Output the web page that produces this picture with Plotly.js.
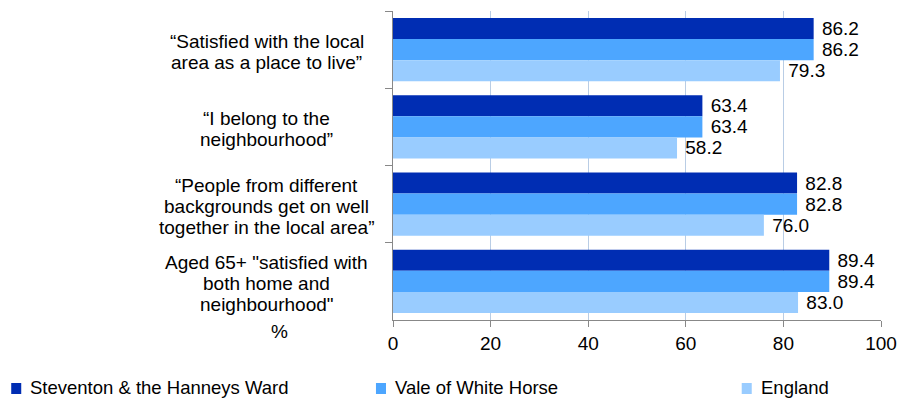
<!DOCTYPE html>
<html>
<head>
<meta charset="utf-8">
<script src="https://cdn.plot.ly/plotly-3.0.1.min.js"></script>
<style>html,body{margin:0;padding:0;background:#fff;}#chart{width:897px;height:401px;}</style>
</head>
<body>
<div id="chart"></div>
<script>
var categories = [
  "“Satisfied with the local<br>area as a place to live”",
  "“I belong to the<br>neighbourhood”",
  "“People from different<br>backgrounds get on well<br>together in the local area”",
  "Aged 65+ \"satisfied with<br>both home and<br>neighbourhood\""
];
var seriesNames = ["Steventon & the Hanneys Ward", "Vale of White Horse", "England"];
var steventon = [86.2, 63.4, 82.8, 89.4];
var vale = [86.2, 63.4, 82.8, 89.4];
var england = [79.3, 58.2, 76.0, 83.0];
var xTicks = [0, 20, 40, 60, 80, 100];

var colors = ["#002DB3", "#4DA6FF", "#99CCFF"];
var font = "Liberation Sans, Arial, sans-serif";
var FS = 19;

function mk(name, vals, color) {
  return {
    type: "bar", orientation: "h", name: name,
    y: categories, x: vals,
    marker: {color: color, line: {width: 0}},
    text: vals.map(function(v){ return " " + v.toFixed(1); }),
    textposition: "outside",
    textfont: {family: font, size: FS, color: "#000"},
    constraintext: "none",
    cliponaxis: false,
    hoverinfo: "skip",
    showlegend: false
  };
}

var data = [
  mk(seriesNames[0], steventon, colors[0]),
  mk(seriesNames[1], vale, colors[1]),
  mk(seriesNames[2], england, colors[2])
];

var annotations = [];
var shapes = [];
categories.forEach(function(c){
  var lines = c.split("<br>");
  var n = lines.length;
  lines.forEach(function(line, i){
    annotations.push({
      xref: "paper", yref: "y", x: -0.259, y: c, text: line,
      yshift: -((i - (n - 1) / 2) * 21) - 2,
      showarrow: false, xanchor: "center", yanchor: "middle", align: "center",
      font: {family: font, size: FS, color: "#000"}
    });
  });
});
annotations.push({
  xref: "paper", yref: "paper", x: -0.232, y: -0.036, text: "%",
  showarrow: false, xanchor: "center", yanchor: "middle",
  font: {family: font, size: FS, color: "#000"}
});

var legX = [12, 376, 741];
seriesNames.forEach(function(name, i){
  var x0 = (legX[i] - 393) / 487;
  var x1 = (legX[i] + 10 - 393) / 487;
  shapes.push({
    type: "rect", xref: "paper", yref: "paper",
    x0: x0, x1: x1, y0: -(394 - 320) / 309, y1: -(383 - 320) / 309,
    fillcolor: colors[i], line: {width: 0}
  });
  annotations.push({
    xref: "paper", yref: "paper", x: (legX[i] + 17 - 393) / 487, y: -(400 - 320) / 309,
    text: name, showarrow: false, xanchor: "left", yanchor: "bottom",
    font: {family: font, size: 18.5, color: "#000"}
  });
});

var layout = {
  width: 897, height: 401,
  margin: {l: 393, r: 16, t: 11, b: 81},
  paper_bgcolor: "#fff", plot_bgcolor: "#fff",
  barmode: "group", bargap: 0.184, bargroupgap: 0,
  font: {family: font, size: FS, color: "#000"},
  xaxis: {
    range: [0, 100], tickvals: xTicks, ticktext: xTicks.map(String),
    showgrid: true, gridcolor: "#B9CDE5", gridwidth: 1,
    zeroline: false, showline: true, linecolor: "#888", linewidth: 1,
    ticks: "outside", ticklen: 6, tickcolor: "#888",
    tickfont: {family: font, size: FS, color: "#000"}, fixedrange: true,
    automargin: false
  },
  yaxis: {
    autorange: "reversed", showticklabels: false,
    showline: true, linecolor: "#888", linewidth: 1,
    ticks: "outside", tickson: "boundaries", ticklen: 7, tickcolor: "#888",
    showgrid: false, zeroline: false, fixedrange: true, automargin: false
  },
  showlegend: false,
  annotations: annotations,
  shapes: shapes
};

Plotly.newPlot("chart", data, layout, {displayModeBar: false, staticPlot: true});
</script>
</body>
</html>
